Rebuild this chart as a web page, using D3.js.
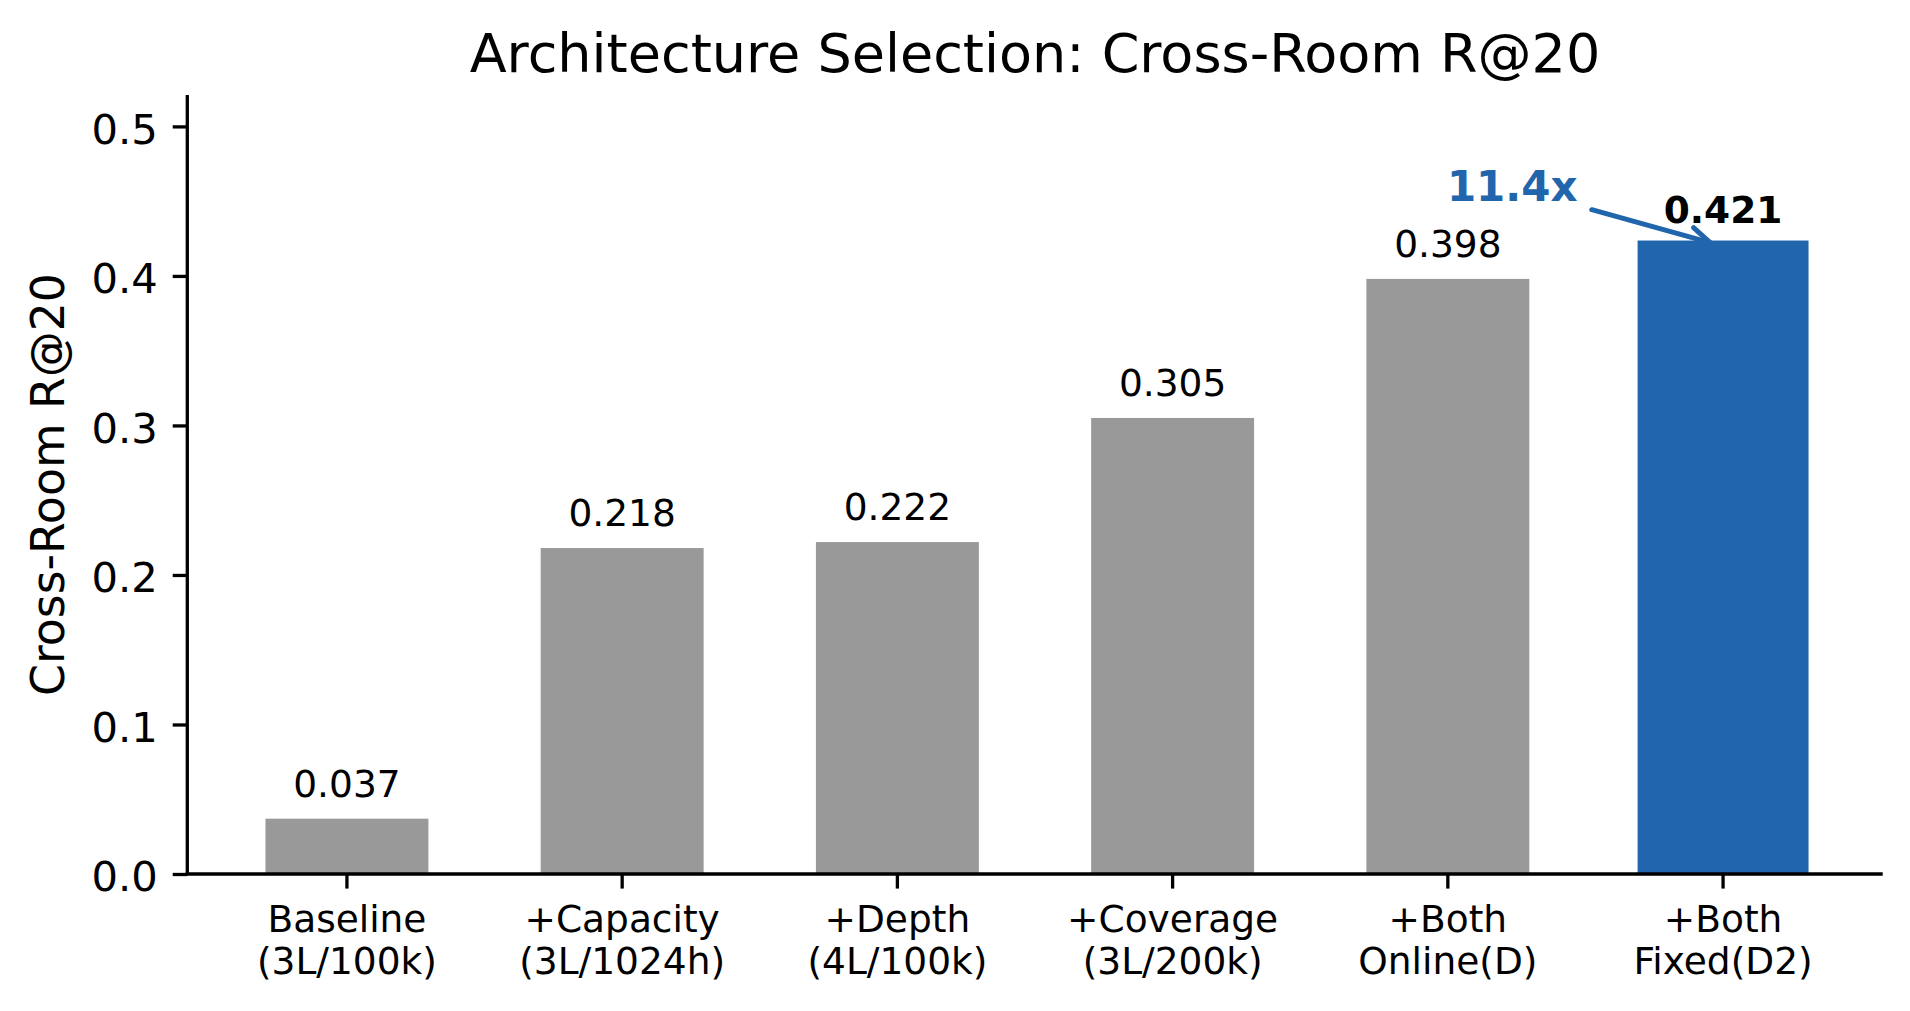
<!DOCTYPE html>
<html>
<head>
<meta charset="utf-8">
<script src="https://cdn.jsdelivr.net/npm/d3@7"></script>
<style>
  html, body { margin: 0; padding: 0; background: #fff; }
  svg { display: block; font-family: "DejaVu Sans", sans-serif; }
</style>
</head>
<body>
<svg id="chart" width="1910" height="1011"></svg>
<script>
// ---- data ----
const categories = ["Baseline", "+Capacity", "+Depth", "+Coverage", "+Both", "+Both"];
const subLabels = ["(3L/100k)", "(3L/1024h)", "(4L/100k)", "(3L/200k)", "Online(D)", "Fixed(D2)"];
const values = [0.037, 0.218, 0.222, 0.305, 0.398, 0.421];
const valueLabels = ["0.037", "0.218", "0.222", "0.305", "0.398", "0.421"];
const yTicks = [0.0, 0.1, 0.2, 0.3, 0.4, 0.5];
const highlightIndex = 5;
const annotationText = "11.4x";
const titleText = "Architecture Selection: Cross-Room R@20";
const yLabelText = "Cross-Room R@20";

// ---- layout ----
const svg = d3.select("#chart");
const L = 187.3, R = 1882.7, T = 95, B = 874;
const GRAY = "#999999", BLUE = "#2166ac";
const keys = categories.map((c, i) => i);

const x = d3.scaleBand().domain(keys).range([L, R]).paddingInner(0.408).paddingOuter(0.284);
const y = d3.scaleLinear().domain([0, 0.521]).range([B, T]);
const step = x.step(), bw = x.bandwidth();
const xc = i => x(0) + bw / 2 + i * step;  // continuous index -> px

svg.append("defs").append("clipPath").attr("id", "plotClip")
  .append("rect").attr("x", L).attr("y", T).attr("width", R - L).attr("height", B - T);

// bars
svg.append("g").attr("clip-path", "url(#plotClip)")
  .selectAll("rect").data(values).join("rect")
  .attr("x", (d, i) => x(i))
  .attr("y", d => y(d))
  .attr("width", bw)
  .attr("height", d => y(0) - y(d))
  .attr("fill", (d, i) => i === highlightIndex ? BLUE : GRAY)
  .attr("stroke", (d, i) => i === highlightIndex ? BLUE : "none")
  .attr("stroke-width", 8);

// value labels
svg.append("g").selectAll("text").data(values).join("text")
  .attr("x", (d, i) => x(i) + bw / 2)
  .attr("y", d => y(d) - 22)
  .attr("text-anchor", "middle")
  .attr("font-size", 37.5)
  .attr("font-weight", (d, i) => i === highlightIndex ? "bold" : "normal")
  .attr("fill", "#000")
  .text((d, i) => valueLabels[i]);

// y axis
const yAxis = d3.axisLeft(y).tickValues(yTicks).tickFormat(d3.format(".1f"))
  .tickSize(14.6).tickPadding(15);
const gy = svg.append("g").attr("transform", `translate(${L},0)`).call(yAxis);
gy.select(".domain").attr("d", `M0,${T}V${B}`).attr("stroke", "#000").attr("stroke-width", 3.3);
gy.selectAll(".tick line").attr("stroke", "#000").attr("stroke-width", 3.3);
gy.selectAll(".tick text").attr("font-size", 41.7).attr("fill", "#000")
  .attr("font-family", "DejaVu Sans").attr("dy", "0.4em");

// x axis
const xAxis = d3.axisBottom(x).tickSize(14.6).tickFormat(() => "");
const gx = svg.append("g").attr("transform", `translate(0,${B})`).call(xAxis);
gx.select(".domain").attr("d", `M${L - 1.6},0H${R}`).attr("stroke", "#000").attr("stroke-width", 3.3);
gx.selectAll(".tick line").attr("stroke", "#000").attr("stroke-width", 3.3);
gx.selectAll(".tick text").remove();
gx.selectAll(".tick").each(function (d) {
  const t = d3.select(this).append("text")
    .attr("text-anchor", "middle").attr("font-size", 37.5)
    .attr("font-family", "DejaVu Sans").attr("fill", "#000");
  t.append("tspan").attr("x", 0).attr("y", 57.7).text(categories[d]);
  t.append("tspan").attr("x", 0).attr("y", 100).text(subLabels[d]);
});

// title
svg.append("text").attr("x", (L + R) / 2).attr("y", 71.7)
  .attr("text-anchor", "middle").attr("font-size", 54).attr("fill", "#000")
  .text(titleText);

// y label
svg.append("text")
  .attr("transform", `translate(64,${(T + B) / 2}) rotate(-90)`)
  .attr("text-anchor", "middle").attr("font-size", 45.8).attr("fill", "#000")
  .text(yLabelText);

// annotation
const tx = xc(4.234), ty = y(0.4503);
svg.append("text").attr("x", tx).attr("y", ty)
  .attr("text-anchor", "middle").attr("font-size", 42).attr("font-weight", "bold")
  .attr("fill", BLUE).text(annotationText);

const p0 = [xc(4.523), y(0.4443)];
const p1 = [xc(4.953), y(0.4223)];
const dx = p1[0] - p0[0], dy = p1[1] - p0[1], len = Math.hypot(dx, dy);
const ux = dx / len, uy = dy / len, nx = -uy, ny = ux;
const hl = 20, hw = 10;
const b1 = [p1[0] - ux * hl + nx * hw, p1[1] - uy * hl + ny * hw];
const b2 = [p1[0] - ux * hl - nx * hw, p1[1] - uy * hl - ny * hw];
const g = svg.append("g").attr("fill", "none").attr("stroke", BLUE)
  .attr("stroke-width", 5).attr("stroke-linecap", "round").attr("stroke-linejoin", "round");
g.append("path").attr("d", d3.line()([p0, p1]));
g.append("path").attr("d", d3.line()([b1, p1, b2]));
</script>
</body>
</html>
